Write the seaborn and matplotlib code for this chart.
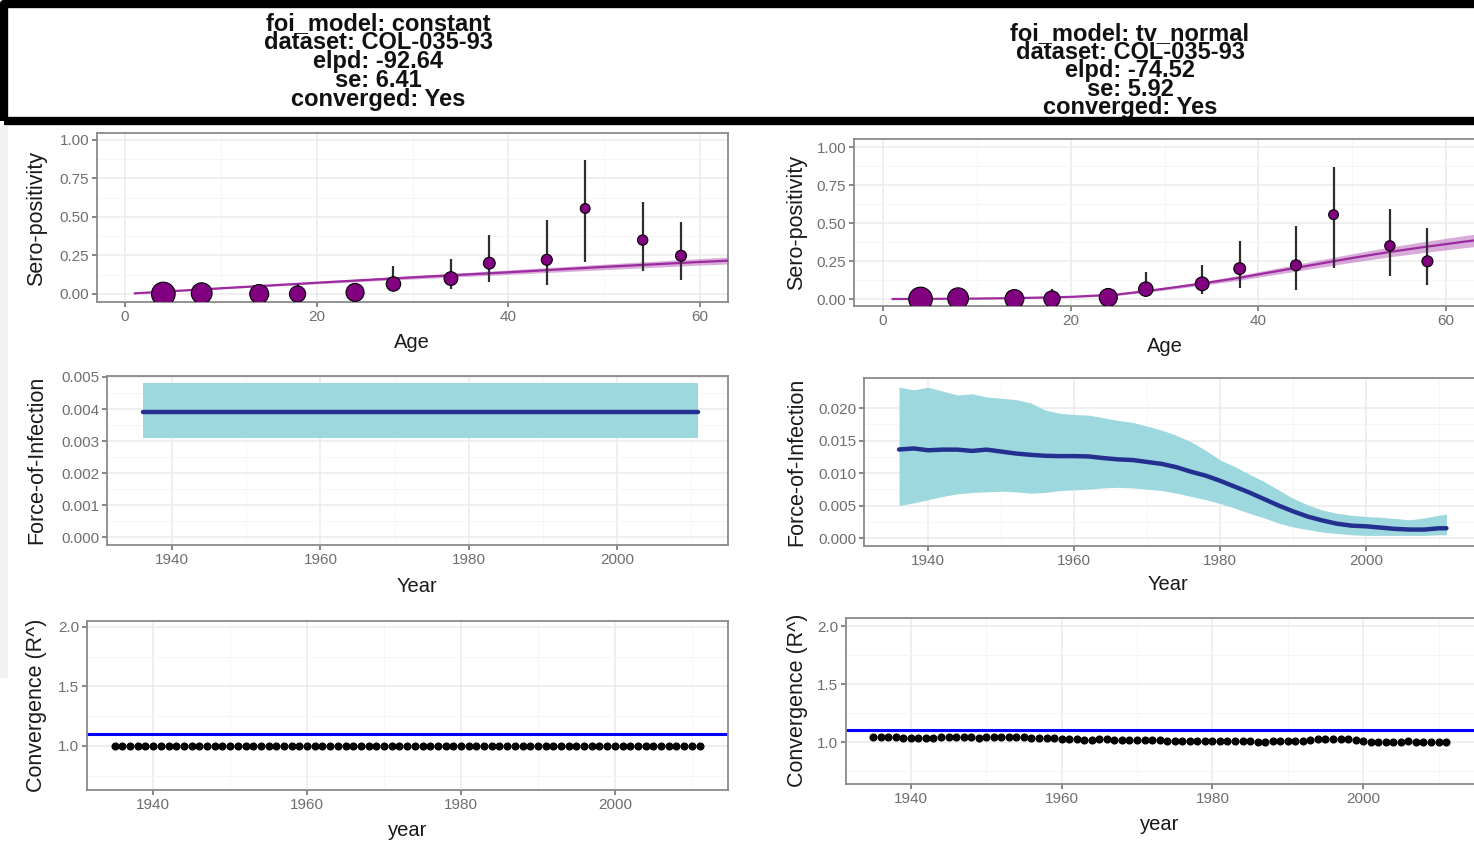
import numpy as np
import pandas as pd
import matplotlib
matplotlib.use("Agg")
import matplotlib.pyplot as plt
import seaborn as sns
from matplotlib.patches import Rectangle

# ---------------- data ----------------
titles_left = ["foi_model: constant", "dataset: COL-035-93", "elpd: -92.64", "se: 6.41", "converged: Yes"]
titles_right = ["foi_model: tv_normal", "dataset: COL-035-93", "elpd: -74.52", "se: 5.92", "converged: Yes"]

ages = [4, 8, 14, 18, 24, 28, 34, 38, 44, 48, 54, 58]
prev = [0.0, 0.005, 0.0, 0.0, 0.01, 0.065, 0.10, 0.20, 0.222, 0.555, 0.35, 0.248]
prev_lo = [0.0, 0.0, 0.0, 0.0, 0.0, 0.02, 0.03, 0.075, 0.06, 0.205, 0.15, 0.09]
prev_hi = [0.04, 0.05, 0.05, 0.065, 0.06, 0.18, 0.225, 0.385, 0.48, 0.87, 0.595, 0.47]
n_sample = [106, 80, 65, 45, 58, 34, 30, 20, 16, 11, 13, 16]

const_age = [1, 10, 20, 30, 40, 50, 60, 65]
const_mid = [0.004, 0.037, 0.073, 0.108, 0.141, 0.176, 0.208, 0.222]
const_lo = [0.003, 0.033, 0.066, 0.097, 0.127, 0.158, 0.188, 0.200]
const_hi = [0.004, 0.041, 0.081, 0.119, 0.156, 0.194, 0.230, 0.246]

tv_age = [1, 5, 10, 15, 20, 25, 28, 30, 34, 38, 40, 44, 50, 54, 58, 62, 65]
tv_mid = [0.0, 0.001, 0.003, 0.007, 0.014, 0.030, 0.052, 0.068, 0.102, 0.140, 0.162, 0.205, 0.270, 0.310, 0.345, 0.378, 0.400]
tv_lo = [0.0, 0.0, 0.001, 0.004, 0.010, 0.024, 0.044, 0.059, 0.090, 0.124, 0.144, 0.183, 0.242, 0.278, 0.309, 0.338, 0.357]
tv_hi = [0.0, 0.002, 0.005, 0.010, 0.018, 0.036, 0.060, 0.077, 0.114, 0.156, 0.180, 0.227, 0.298, 0.342, 0.381, 0.418, 0.443]

const_years = [1936, 2011]
const_foi_mid = [0.0039, 0.0039]
const_foi_lo = [0.0031, 0.0031]
const_foi_hi = [0.0048, 0.0048]

foi_years = [1936, 1938, 1940, 1942, 1944, 1946, 1948, 1950, 1952, 1954,
             1956, 1958, 1960, 1962, 1964, 1966, 1968, 1970, 1972, 1974,
             1976, 1978, 1980, 1982, 1984, 1986, 1988, 1990, 1992, 1994,
             1996, 1998, 2000, 2002, 2004, 2006, 2008, 2010, 2011]
foi_mid = [0.01362, 0.01378, 0.0135, 0.0136, 0.0136, 0.0134, 0.0136, 0.0133, 0.0130, 0.0128,
           0.01265, 0.0126, 0.0126, 0.01255, 0.0123, 0.0121, 0.0120, 0.0117, 0.0114, 0.0109,
           0.0102, 0.0096, 0.0088, 0.0079, 0.0070, 0.0060, 0.0050, 0.0041, 0.0033, 0.0027,
           0.0022, 0.0019, 0.0018, 0.0016, 0.0014, 0.0013, 0.0013, 0.0015, 0.0015]
foi_hi = [0.0232, 0.0228, 0.0232, 0.0226, 0.0220, 0.0222, 0.0217, 0.0215, 0.0213, 0.0208,
          0.0197, 0.0192, 0.0190, 0.0189, 0.0185, 0.0181, 0.0178, 0.0172, 0.0166, 0.0158,
          0.0148, 0.0135, 0.0120, 0.0110, 0.0098, 0.0087, 0.0074, 0.0061, 0.0051, 0.0043,
          0.0038, 0.0035, 0.0033, 0.0032, 0.0030, 0.0028, 0.0031, 0.0035, 0.0037]
foi_lo = [0.0050, 0.0054, 0.0059, 0.0064, 0.0068, 0.0070, 0.0071, 0.0072, 0.0071, 0.0069,
          0.0070, 0.0073, 0.0074, 0.0075, 0.0077, 0.0078, 0.0077, 0.0075, 0.0073, 0.0069,
          0.0064, 0.0059, 0.0053, 0.0046, 0.0038, 0.0031, 0.0023, 0.0017, 0.0013, 0.0009,
          0.0007, 0.0005, 0.0004, 0.0004, 0.0004, 0.0004, 0.0004, 0.0005, 0.0005]

rhat_years = list(range(1935, 2012))
rhat_const = [1.00, 1.00, 1.00, 1.00, 1.00, 1.00, 1.00, 1.00, 1.00, 1.00,
              1.00, 1.00, 1.00, 1.00, 1.00, 1.00, 1.00, 1.00, 1.00, 1.00,
              1.00, 1.00, 1.00, 1.00, 1.00, 1.00, 1.00, 1.00, 1.00, 1.00,
              1.00, 1.00, 1.00, 1.00, 1.00, 1.00, 1.00, 1.00, 1.00, 1.00,
              1.00, 1.00, 1.00, 1.00, 1.00, 1.00, 1.00, 1.00, 1.00, 1.00,
              1.00, 1.00, 1.00, 1.00, 1.00, 1.00, 1.00, 1.00, 1.00, 1.00,
              1.00, 1.00, 1.00, 1.00, 1.00, 1.00, 1.00, 1.00, 1.00, 1.00,
              1.00, 1.00, 1.00, 1.00, 1.00, 1.00, 1.00]
rhat_tv = [1.040, 1.041, 1.040, 1.040, 1.039, 1.039, 1.038, 1.038, 1.039, 1.040,
           1.041, 1.041, 1.040, 1.040, 1.039, 1.040, 1.041, 1.041, 1.042, 1.041,
           1.040, 1.039, 1.038, 1.036, 1.032, 1.030, 1.027, 1.022, 1.021, 1.021,
           1.022, 1.023, 1.021, 1.020, 1.019, 1.018, 1.017, 1.016, 1.015, 1.013,
           1.012, 1.010, 1.008, 1.007, 1.006, 1.007, 1.008, 1.008, 1.007, 1.006,
           1.005, 1.004, 1.004, 1.005, 1.006, 1.007, 1.008, 1.009, 1.016, 1.022,
           1.026, 1.027, 1.025, 1.022, 1.018, 1.008, 1.002, 1.001, 1.002, 1.003,
           1.004, 1.006, 1.004, 1.002, 1.001, 1.002, 1.003]
rhat_threshold = 1.1

# ---------------- styling ----------------
W, H = 1474, 843
sns.set_theme(style="white")
plt.rcParams['font.family'] = ['Liberation Sans', 'DejaVu Sans']

PURPLE = '#800080'
LINE_PURPLE = '#9E2AA0'
BAND_PURPLE = '#B866BA'
BAND_CYAN = '#9ED8DF'
LINE_NAVY = '#24308F'

fig = plt.figure(figsize=(W / 100, H / 100), dpi=100)
fig.patch.set_facecolor('white')

# light grey strip at left edge
fig.patches.append(Rectangle((0, 1 - 678 / H), 8 / W, (678 - 126) / H, transform=fig.transFigure,
                             facecolor='#F1F2F4', edgecolor='none', zorder=0))


def add_ax(l, t, r, b):
    return fig.add_axes([l / W, 1 - b / H, (r - l) / W, (b - t) / H])


def style(ax, xlim, ylim, xmaj, xmin, ymaj, ymin, ylabels):
    ax.set_xlim(xlim)
    ax.set_ylim(ylim)
    ax.set_xticks(xmaj)
    ax.set_xticks(xmin, minor=True)
    ax.set_yticks(ymaj)
    ax.set_yticks(ymin, minor=True)
    ax.set_yticklabels(ylabels)
    ax.grid(True, which='major', color='#EBEBEB', lw=1.1)
    ax.grid(True, which='minor', color='#F5F5F5', lw=0.6)
    ax.set_axisbelow(True)
    for s in ax.spines.values():
        s.set_color('#8A8A8A')
        s.set_linewidth(1.3)
    ax.tick_params(which='major', length=3.5, width=1.1, color='#666666', labelsize=11,
                   labelcolor='#6E6E6E', pad=2, direction='out', bottom=True, left=True)
    ax.tick_params(which='minor', length=0, bottom=False, left=False)
    ax.set_xlabel('')
    ax.set_ylabel('')


def ylab(x, y, s):
    fig.text(x / W, 1 - y / H, s, rotation=90, ha='center', va='center', fontsize=15.5, color='#1A1A1A')


def xlab(x, y, s):
    fig.text(x / W, 1 - y / H, s, ha='center', va='center', fontsize=14.5, color='#1A1A1A')


# ---------------- header ----------------
fig.patches.append(Rectangle((4 / W, 1 - 121 / H), 1520 / W, 117 / H, transform=fig.transFigure,
                             fill=False, edgecolor='black', lw=6, joinstyle='round', zorder=5))
for i, s in enumerate(titles_left):
    fig.text(378 / W, 1 - (30 + 19 * i) / H, s, ha='center', va='baseline', fontsize=17,
             fontweight='bold', color='#111111')
for i, s in enumerate(titles_right):
    fig.text(1130 / W, 1 - (40 + 18.6 * i) / H, s, ha='center', va='baseline', fontsize=17,
             fontweight='bold', color='#111111')

df_pts = pd.DataFrame({'age': ages, 'prev': prev, 'lo': prev_lo, 'hi': prev_hi, 'n': n_sample})


def sero_panel(ax, fa, fm, fl, fh):
    ax.fill_between(fa, fl, fh, color=BAND_PURPLE, alpha=0.55, lw=0, zorder=2)
    sns.lineplot(x=fa, y=fm, color=LINE_PURPLE, lw=1.6, ax=ax, estimator=None, sort=False, zorder=3)
    ax.vlines(df_pts['age'], df_pts['lo'], df_pts['hi'], color='#2E2E2E', lw=1.6, zorder=3.5)
    sns.scatterplot(data=df_pts, x='age', y='prev', size='n', sizes=(50, 290), color=PURPLE,
                    edgecolor='black', linewidth=0.8, legend=False, ax=ax, zorder=4)


# ---------------- left column ----------------
ax = add_ax(97, 133, 728, 302)
sero_panel(ax, const_age, const_mid, const_lo, const_hi)
style(ax, (-2.92, 62.9), (-0.052, 1.045), [0, 20, 40, 60], [10, 30, 50],
      [0, 0.25, 0.5, 0.75, 1.0], [0.125, 0.375, 0.625, 0.875], ['0.00', '0.25', '0.50', '0.75', '1.00'])
ylab(37, 218, 'Sero-positivity')
xlab(412, 343, 'Age')

ax = add_ax(107, 376, 728, 545)
ax.fill_between(const_years, const_foi_lo, const_foi_hi, color=BAND_CYAN, lw=0, zorder=2)
sns.lineplot(x=const_years, y=const_foi_mid, color=LINE_NAVY, lw=3.2, ax=ax, estimator=None, zorder=3)
style(ax, (1931.2, 2015.0), (-0.00024, 0.00503), [1940, 1960, 1980, 2000], [1950, 1970, 1990, 2010],
      [0, 0.001, 0.002, 0.003, 0.004, 0.005], [0.0005, 0.0015, 0.0025, 0.0035, 0.0045],
      ['0.000', '0.001', '0.002', '0.003', '0.004', '0.005'])
ylab(37, 460, 'Force-of-Infection')
xlab(417, 586, 'Year')

ax = add_ax(87, 621, 728, 790)
ax.axhline(rhat_threshold, color='blue', lw=2.2, zorder=2)
sns.scatterplot(x=rhat_years, y=rhat_const, color='black', s=34, edgecolor='black', linewidth=0, ax=ax, zorder=3)
style(ax, (1931.4, 2014.7), (0.630, 2.05), [1940, 1960, 1980, 2000], [1950, 1970, 1990, 2010],
      [1.0, 1.5, 2.0], [0.75, 1.25, 1.75], ['1.0', '1.5', '2.0'])
ylab(37, 705, 'Convergence (R^)')
xlab(408, 830, 'year')

# ---------------- right column ----------------
ax = add_ax(854, 139, 1480, 306)
sero_panel(ax, tv_age, tv_mid, tv_lo, tv_hi)
style(ax, (-3.09, 63.6), (-0.046, 1.053), [0, 20, 40, 60], [10, 30, 50],
      [0, 0.25, 0.5, 0.75, 1.0], [0.125, 0.375, 0.625, 0.875], ['0.00', '0.25', '0.50', '0.75', '1.00'])
ylab(797, 222, 'Sero-positivity')
xlab(1165, 346, 'Age')

ax = add_ax(864, 378, 1480, 546)
ax.fill_between(foi_years, foi_lo, foi_hi, color=BAND_CYAN, lw=0, zorder=2)
sns.lineplot(x=foi_years, y=foi_mid, color=LINE_NAVY, lw=3.2, ax=ax, estimator=None, zorder=3)
style(ax, (1931.2, 2015.6), (-0.00123, 0.02462), [1940, 1960, 1980, 2000], [1950, 1970, 1990, 2010],
      [0, 0.005, 0.010, 0.015, 0.020], [0.0025, 0.0075, 0.0125, 0.0175],
      ['0.000', '0.005', '0.010', '0.015', '0.020'])
ylab(797, 462, 'Force-of-Infection')
xlab(1168, 585, 'Year')

ax = add_ax(846, 618, 1480, 784)
ax.axhline(rhat_threshold, color='blue', lw=2.2, zorder=2)
sns.scatterplot(x=rhat_years, y=rhat_tv, color='black', s=34, edgecolor='black', linewidth=0, ax=ax, zorder=3)
style(ax, (1931.4, 2015.5), (0.638, 2.07), [1940, 1960, 1980, 2000], [1950, 1970, 1990, 2010],
      [1.0, 1.5, 2.0], [0.75, 1.25, 1.75], ['1.0', '1.5', '2.0'])
ylab(797, 700, 'Convergence (R^)')
xlab(1160, 824, 'year')

fig.savefig('out.png', dpi=100)
